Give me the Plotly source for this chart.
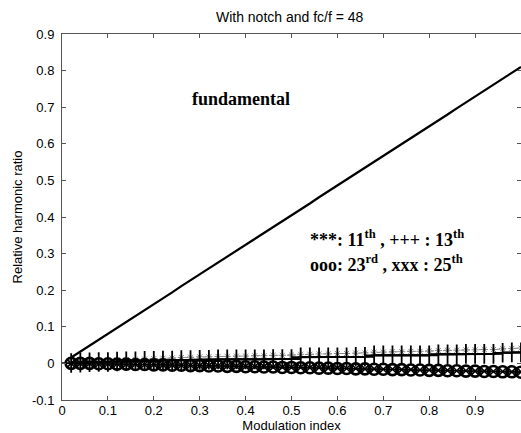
import plotly.graph_objects as go

# Modulation index samples
mod_index = [0.02, 0.04, 0.06, 0.08, 0.10, 0.12, 0.14, 0.16, 0.18, 0.20,
             0.22, 0.24, 0.26, 0.28, 0.30, 0.32, 0.34, 0.36, 0.38, 0.40,
             0.42, 0.44, 0.46, 0.48, 0.50, 0.52, 0.54, 0.56, 0.58, 0.60,
             0.62, 0.64, 0.66, 0.68, 0.70, 0.72, 0.74, 0.76, 0.78, 0.80,
             0.82, 0.84, 0.86, 0.88, 0.90, 0.92, 0.94, 0.96, 0.98, 1.00]

fundamental = [0.016, 0.032, 0.049, 0.065, 0.081, 0.097, 0.113, 0.130, 0.146, 0.162,
               0.178, 0.194, 0.211, 0.227, 0.243, 0.259, 0.275, 0.292, 0.308, 0.324,
               0.340, 0.356, 0.373, 0.389, 0.405, 0.421, 0.437, 0.454, 0.470, 0.486,
               0.502, 0.518, 0.535, 0.551, 0.567, 0.583, 0.599, 0.616, 0.632, 0.648,
               0.664, 0.680, 0.697, 0.713, 0.729, 0.745, 0.761, 0.778, 0.794, 0.810]

h11 = [0.002, 0.004, 0.005, 0.007, 0.008, 0.009, 0.010, 0.011, 0.012, 0.013,
       0.014, 0.015, 0.016, 0.017, 0.018, 0.018, 0.019, 0.019, 0.020, 0.020,
       0.021, 0.021, 0.022, 0.022, 0.023, 0.025, 0.025, 0.026, 0.026, 0.027,
       0.027, 0.028, 0.029, 0.031, 0.031, 0.032, 0.032, 0.033, 0.033, 0.034,
       0.035, 0.036, 0.036, 0.037, 0.037, 0.038, 0.038, 0.040, 0.041, 0.042]

h13 = [0.001, 0.002, 0.003, 0.004, 0.004, 0.005, 0.006, 0.006, 0.007, 0.007,
       0.008, 0.008, 0.009, 0.009, 0.010, 0.010, 0.011, 0.011, 0.011, 0.011,
       0.011, 0.011, 0.012, 0.012, 0.012, 0.017, 0.017, 0.017, 0.017, 0.017,
       0.017, 0.018, 0.018, 0.022, 0.022, 0.022, 0.022, 0.022, 0.022, 0.022,
       0.025, 0.025, 0.025, 0.026, 0.026, 0.026, 0.026, 0.029, 0.030, 0.030]

h23 = [0.000, 0.000, 0.000, -0.001, -0.001, -0.002, -0.002, -0.003, -0.003, -0.004,
       -0.004, -0.005, -0.005, -0.006, -0.006, -0.007, -0.007, -0.008, -0.008, -0.009,
       -0.009, -0.010, -0.010, -0.011, -0.011, -0.012, -0.012, -0.013, -0.013, -0.014,
       -0.014, -0.015, -0.015, -0.016, -0.016, -0.017, -0.017, -0.018, -0.018, -0.019,
       -0.019, -0.020, -0.020, -0.021, -0.021, -0.022, -0.022, -0.023, -0.023, -0.024]

h25 = [0.000, 0.000, 0.000, -0.001, -0.001, -0.001, -0.002, -0.002, -0.003, -0.003,
       -0.004, -0.004, -0.005, -0.005, -0.006, -0.006, -0.007, -0.007, -0.008, -0.008,
       -0.009, -0.009, -0.010, -0.010, -0.011, -0.011, -0.012, -0.012, -0.013, -0.013,
       -0.014, -0.014, -0.015, -0.015, -0.016, -0.016, -0.017, -0.017, -0.018, -0.018,
       -0.019, -0.019, -0.020, -0.020, -0.021, -0.021, -0.022, -0.022, -0.023, -0.023]

x_ticks = [0, 0.1, 0.2, 0.3, 0.4, 0.5, 0.6, 0.7, 0.8, 0.9]
x_ticktext = ["0", "0.1", "0.2", "0.3", "0.4", "0.5", "0.6", "0.7", "0.8", "0.9"]
y_ticks = [-0.1, 0, 0.1, 0.2, 0.3, 0.4, 0.5, 0.6, 0.7, 0.8, 0.9]
y_ticktext = ["-0.1", "0", "0.1", "0.2", "0.3", "0.4", "0.5", "0.6", "0.7", "0.8", "0.9"]

fig = go.Figure()

fig.add_trace(go.Scatter(x=mod_index, y=fundamental, mode="lines",
                         line=dict(color="black", width=2.2), showlegend=False))
fig.add_trace(go.Scatter(x=mod_index, y=h11, mode="lines+markers",
                         line=dict(color="#888888", width=1, dash="dot"),
                         marker=dict(symbol="asterisk-open", size=6,
                                     line=dict(color="#777777", width=1)),
                         showlegend=False))
fig.add_trace(go.Scatter(x=mod_index, y=h13, mode="lines+markers",
                         line=dict(color="black", width=2),
                         marker=dict(symbol="cross-thin-open", size=14,
                                     line=dict(color="black", width=1.8)),
                         showlegend=False))
fig.add_trace(go.Scatter(x=mod_index, y=h23, mode="lines+markers",
                         line=dict(color="black", width=1.5),
                         marker=dict(symbol="circle-open", size=11,
                                     line=dict(color="black", width=2.6)),
                         showlegend=False))
fig.add_trace(go.Scatter(x=mod_index, y=h25, mode="lines+markers",
                         line=dict(color="black", width=1),
                         marker=dict(symbol="x-thin-open", size=7,
                                     line=dict(color="black", width=1.6)),
                         showlegend=False))

serif = "Liberation Serif, Times New Roman, serif"
fig.add_annotation(x=0.39, y=0.723, xref="x", yref="y", showarrow=False,
                   text="<b>fundamental</b>",
                   font=dict(family=serif, size=18, color="black"))
fig.add_annotation(x=0.535, y=0.342, xref="x", yref="y", showarrow=False,
                   xanchor="left",
                   text="<b>***: 11<sup>th</sup> , +++ : 13<sup>th</sup></b>",
                   font=dict(family=serif, size=18, color="black"))
fig.add_annotation(x=0.535, y=0.272, xref="x", yref="y", showarrow=False,
                   xanchor="left",
                   text="<b>ooo: 23<sup>rd</sup> , xxx : 25<sup>th</sup></b>",
                   font=dict(family=serif, size=18, color="black"))

sans = "Liberation Sans, Arial"
axis_common = dict(showgrid=False, zeroline=False, showline=True, linecolor="#555555",
                   linewidth=1, mirror="ticks", ticks="inside", ticklen=4,
                   tickcolor="#555555",
                   tickfont=dict(family=sans, size=13, color="black"))

fig.update_layout(
    width=521, height=433,
    margin=dict(l=62, r=0, t=34, b=33),
    paper_bgcolor="white", plot_bgcolor="white",
    font=dict(family=sans, size=13, color="black"),
    title=dict(text="With notch and fc/f = 48", x=0.556, xanchor="center",
               y=0.96, yanchor="middle",
               font=dict(family=sans, size=14, color="black")),
    xaxis=dict(range=[0, 1.0], tickvals=x_ticks, ticktext=x_ticktext,
               title=dict(text="Modulation index", standoff=5,
                          font=dict(family=sans, size=13)),
               ticklabelstandoff=-2,
               **axis_common),
    yaxis=dict(range=[-0.1, 0.9], tickvals=y_ticks, ticktext=y_ticktext,
               title=dict(text="Relative harmonic ratio", standoff=6,
                          font=dict(family=sans, size=13)),
               ticklabelstandoff=4,
               **axis_common),
)

fig.write_html("out.html")
